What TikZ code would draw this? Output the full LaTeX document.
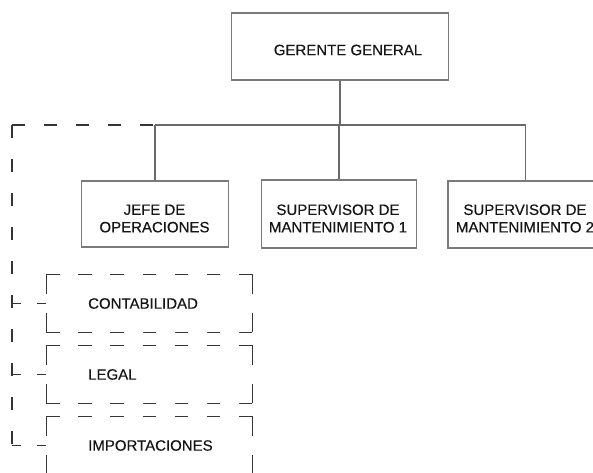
\documentclass[tikz,border=0pt]{standalone}
\usepackage{fontspec}
\setmainfont{Liberation Sans}
\newfontfamily\lblfont{Liberation Sans}[FakeBold=0.35]
\definecolor{boxgray}{HTML}{7A7A7A}
\definecolor{linegray}{HTML}{6A6A6A}
\definecolor{dashgray}{HTML}{353535}
\definecolor{txtcol}{HTML}{151515}
\tikzset{
  solidbox/.style={draw=boxgray, line width=1.1pt, inner sep=0pt, rectangle},
  lbl/.style={text=txtcol, font=\lblfont\fontsize{15pt}{17.5pt}\selectfont, align=center, inner sep=0pt},
  conn/.style={draw=linegray, line width=1.1pt},
  dashbox/.style={draw=none, inner sep=0pt, rectangle, minimum width=205pt, minimum height=57pt},
  hdash/.style={draw=dashgray, line width=1.3pt, line cap=rect, dash pattern=on 12.14pt off 20pt},
  vdash/.style={draw=dashgray, line width=1.3pt, line cap=rect, dash pattern=on 18.5pt off 20pt},
  busdashh/.style={draw=dashgray, line width=1.3pt, dash pattern=on 13pt off 19pt},
  busdashv/.style={draw=dashgray, line width=1.3pt, dash pattern=on 13pt off 21pt},
  branchdash/.style={draw=dashgray, line width=1.3pt, dash pattern=on 9pt off 16pt},
}
\begin{document}
\begin{tikzpicture}[x=1pt,y=-1pt]
\path[use as bounding box] (0,0) rectangle (593,472);
\clip (0,0) rectangle (593,472);
\fill[white] (0,0) rectangle (593,472);

% solid boxes
\node[solidbox, minimum width=217pt, minimum height=67pt] (gg) at (340,46.5) {};
\node[lbl] (ggt) at (348,50) {GERENTE GENERAL};

\node[solidbox, minimum width=147pt, minimum height=66pt] (jefe) at (155,214) {};
\node[lbl] (jefet) at (154.5,218.5) {JEFE DE\\OPERACIONES};

\node[solidbox, minimum width=155pt, minimum height=68pt] (sup1) at (339,214) {};
\node[lbl] (sup1t) at (338,218.5) {SUPERVISOR DE\\MANTENIMIENTO 1};

\node[solidbox, minimum width=155pt, minimum height=67pt] (sup2) at (525.5,214.5) {};
\node[lbl] (sup2t) at (525,218.5) {SUPERVISOR DE\\MANTENIMIENTO 2};

% bus
\coordinate (busL) at (155,125);
\coordinate (busR) at (525.5,125);
\coordinate (corner) at (12,125);
\coordinate (vend) at (12,444);

\draw[conn] (gg.south) -- (gg.south |- busL);
\draw[conn] (busL) -- (busR);
\draw[conn] (busL) -- (jefe.north);
\draw[conn] (sup1.north |- busL) -- (sup1.north);
\draw[conn] (busR) -- (sup2.north);

% dashed boxes
\node[dashbox] (cont) at (149.5,303.5) {};
\node[lbl, anchor=west] (contt) at (88,303.5) {CONTABILIDAD};
\node[dashbox] (legal) at (149.5,374.5) {};
\node[lbl, anchor=west] (legalt) at (88,374.5) {LEGAL};
\node[dashbox] (imp) at (149.5,445.5) {};
\node[lbl, anchor=west] (impt) at (88,445.5) {IMPORTACIONES};

\foreach \b in {cont,legal,imp}{
  \draw[hdash] (\b.north west) -- (\b.north east);
  \draw[hdash] (\b.south west) -- (\b.south east);
  \draw[vdash] (\b.north west) -- (\b.south west);
  \draw[vdash] (\b.north east) -- (\b.south east);
}

% dashed staff line
\draw[busdashh] (corner) -- (busL);
\draw[busdashv] (corner) -- (vend);
\draw[branchdash] (corner |- cont.west) -- (cont.west);
\draw[branchdash] (corner |- legal.west) -- (legal.west);
\draw[branchdash] (corner |- imp.west) -- (imp.west);
\end{tikzpicture}
\end{document}
